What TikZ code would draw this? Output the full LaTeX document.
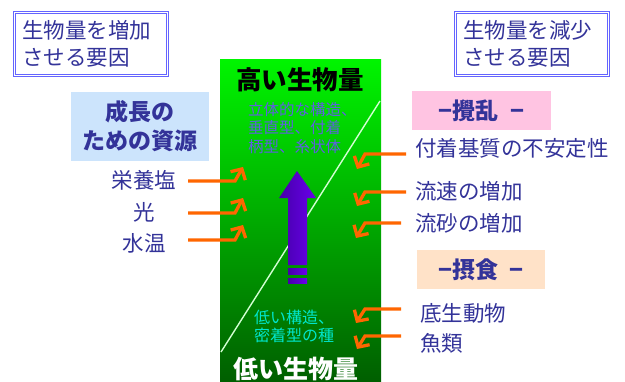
\documentclass[tikz,border=0pt]{standalone}
\usepackage{fontspec}
\setmainfont{Noto Sans CJK JP}
\usetikzlibrary{arrows.meta}
\definecolor{txtblue}{RGB}{51,51,153}
\definecolor{framebl}{RGB}{100,100,255}
\definecolor{grtop}{RGB}{0,245,0}
\definecolor{grbot}{RGB}{0,95,0}
\definecolor{pupl}{RGB}{70,0,170}
\definecolor{pupr}{RGB}{105,0,235}
\definecolor{orarr}{RGB}{255,102,0}
\definecolor{resbg}{RGB}{204,228,252}
\definecolor{distbg}{RGB}{255,196,226}
\definecolor{predbg}{RGB}{255,226,200}
\definecolor{formtxt}{RGB}{95,95,225}
\definecolor{lowtxt}{RGB}{0,230,205}
\definecolor{diagln}{RGB}{210,255,210}

\begin{document}
\begin{tikzpicture}[x=1pt,y=-1pt,>={Straight Barb[length=8pt,width=17pt]}]
        \tikzset{
          framebox/.style={draw=framebl,line width=1.8pt,
            minimum width=155pt,minimum height=65pt,anchor=north west,inner xsep=9pt,
            align=left,text=txtblue,font=\fontsize{21.5}{27}\selectfont,text width=137pt},
          innerframe/.style={draw=framebl,line width=0.7pt},
          headbox/.style={inner sep=0pt,text=txtblue,font=\bfseries\fontsize{23}{29}\selectfont,align=center},
          factor/.style={inner sep=0pt,text=txtblue,font=\fontsize{21.5}{24}\selectfont},
          feed/.style={->,draw=orarr,line width=3.3pt}
        }
        \useasboundingbox (0,0) rectangle (625,381);
        % boxes at the top
        \node[framebox] (incbox) at (12.5,10.5) {生物量を増加\\させる要因};
        \node[framebox] (decbox) at (453.5,10.5) {生物量を減少\\させる要因};
        \draw[innerframe] ([xshift=2.6pt,yshift=-2.6pt]incbox.north west) rectangle ([xshift=-2.6pt,yshift=2.6pt]incbox.south east);
        \draw[innerframe] ([xshift=2.6pt,yshift=-2.6pt]decbox.north west) rectangle ([xshift=-2.6pt,yshift=2.6pt]decbox.south east);
        % green column
        \shade[top color=grtop,bottom color=grbot] (220,59) rectangle (381,381);
        \draw[diagln,line width=1.4pt] (380,101)--(221,352);
        \node[inner sep=0pt,font=\bfseries\fontsize{25.5}{25}\selectfont] (high) at (300,80) {高い生物量};
        \node[inner sep=0pt,text=white,font=\bfseries\fontsize{25}{25}\selectfont] (low) at (296,369) {低い生物量};
        \node[inner sep=0pt,anchor=west,align=left,text=formtxt,font=\fontsize{15.5}{18.5}\selectfont] (forms) at (248,128) {立体的な構造、\\垂直型、付着\\柄型、糸状体};
        \node[inner sep=0pt,anchor=west,align=left,text=lowtxt,font=\fontsize{16}{18}\selectfont] (lowforms) at (254,326) {低い構造、\\密着型の種};
        % purple arrow
        \shade[left color=pupl,right color=pupr] (297,171)--(316,198)--(307,198)--(307,265)
          --(288,265)--(288,198)--(279,198)--cycle;
        \shade[left color=pupl,right color=pupr] (288,268) rectangle (307,274);
        \shade[left color=pupl,right color=pupr] (288,278) rectangle (307,283);
        % resources
        \node[fill=resbg,minimum width=138pt,minimum height=69pt,headbox,inner sep=0pt] (res) at (140,126.5) {成長の\\ための資源};
        \node[factor] (nut) at (144,180) {栄養塩};
        \node[factor] (light) at (144,212) {光};
        \node[factor] (temp) at (144,243) {水温};
        \coordinate (tnut) at (243,167);
        \coordinate (tlight) at (243,198);
        \coordinate (ttemp) at (243,225);
        \draw[feed] (188,181)--(235,181)--(tnut);
        \draw[feed] (188,213)--(235,213)--(tlight);
        \draw[feed] (188,240)--(235,240)--(ttemp);
        % disturbance
        \node[fill=distbg,minimum width=139pt,minimum height=39pt,headbox] (dist) at (481.5,110.5) {−攪乱\hspace{0.5em}−};
        \node[factor,anchor=west] (subs) at (415,148) {付着基質の不安定性};
        \node[factor,anchor=west] (flow) at (415,191) {流速の増加};
        \node[factor,anchor=west] (sand) at (415,223) {流砂の増加};
        \coordinate (tsubs) at (357,169);
        \coordinate (tflow) at (357,206);
        \coordinate (tsand) at (356,238);
        \draw[feed] (406,154)--(365,154)--(tsubs);
        \draw[feed] (406,192)--(365,192)--(tflow);
        \draw[feed] (401,223)--(365,223)--(tsand);
        % grazing
        \node[fill=predbg,minimum width=128pt,minimum height=39pt,headbox] (graze) at (481,269.5) {−摂食\hspace{0.5em}−};
        \node[factor,anchor=west] (benth) at (420,313) {底生動物};
        \node[factor,anchor=west] (fish) at (420,343) {魚類};
        \coordinate (tbenth) at (356,323);
        \coordinate (tfish) at (357,349);
        \draw[feed] (401,309)--(365,309)--(tbenth);
        \draw[feed] (401,336)--(365,336)--(tfish);
    \end{tikzpicture}
\end{document}
